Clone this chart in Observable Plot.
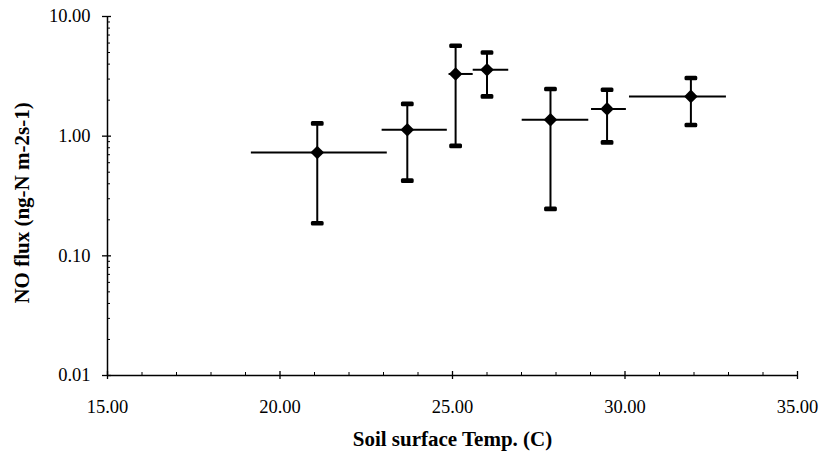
<!DOCTYPE html>
<html>
<head>
<meta charset="utf-8">
<script src="https://cdn.jsdelivr.net/npm/d3@7"></script>
<script src="https://cdn.jsdelivr.net/npm/@observablehq/plot@0.6"></script>
<style>
  html, body { margin: 0; padding: 0; background: #fff; }
</style>
</head>
<body>
<div id="chart"></div>
<script>
// Data
const temp     = [21.08, 23.69, 25.09, 26.00, 27.84, 29.48, 31.91];
const tempLow  = [19.17, 22.96, 24.90, 25.60, 27.02, 29.03, 30.13];
const tempHigh = [23.11, 24.85, 25.60, 26.63, 28.95, 30.04, 32.94];
const flux     = [0.73, 1.13, 3.31, 3.59, 1.37, 1.69, 2.15];
const fluxLow  = [0.187, 0.425, 0.83, 2.15, 0.247, 0.888, 1.24];
const fluxHigh = [1.28, 1.86, 5.69, 5.00, 2.48, 2.44, 3.06];

const xMajorTicks = [15, 20, 25, 30, 35];
const xMinorTicks = [16, 17, 18, 19, 21, 22, 23, 24, 26, 27, 28, 29, 31, 32, 33, 34];
const yMajorTicks = [0.01, 0.1, 1, 10];
const yMinorTicks = [0.02, 0.03, 0.04, 0.05, 0.06, 0.07, 0.08, 0.09,
                     0.2, 0.3, 0.4, 0.5, 0.6, 0.7, 0.8, 0.9,
                     2, 3, 4, 5, 6, 7, 8, 9];
const xTitle = "Soil surface Temp. (C)";
const yTitle = "NO flux (ng-N m-2s-1)";

const data = temp.map((t, i) => ({
  x: t, xlo: tempLow[i], xhi: tempHigh[i],
  y: flux[i], ylo: fluxLow[i], yhi: fluxHigh[i]
}));
const capPoints = data.flatMap(d => [{x: d.x, y: d.ylo}, {x: d.x, y: d.yhi}]);

const capSymbol = {
  draw(ctx) {
    const w = 6.4, h = 2.3, r = 1.5;
    ctx.moveTo(-w + r, -h);
    ctx.lineTo(w - r, -h);
    ctx.arcTo(w, -h, w, -h + r, r);
    ctx.lineTo(w, h - r);
    ctx.arcTo(w, h, w - r, h, r);
    ctx.lineTo(-w + r, h);
    ctx.arcTo(-w, h, -w, h - r, r);
    ctx.lineTo(-w, -h + r);
    ctx.arcTo(-w, -h, -w + r, -h, r);
    ctx.closePath();
  }
};
const diamondSymbol = {
  draw(ctx) {
    const s = 6.8;
    ctx.moveTo(0, -s);
    ctx.lineTo(s, 0);
    ctx.lineTo(0, s);
    ctx.lineTo(-s, 0);
    ctx.closePath();
  }
};
const noLabel = () => "";

const chart = Plot.plot({
  width: 823,
  height: 455,
  marginLeft: 107,
  marginRight: 26,
  marginTop: 16,
  marginBottom: 80,
  style: {
    fontFamily: "'Liberation Serif', 'Times New Roman', serif",
    fontSize: "18px",
    background: "#fff",
    color: "#000"
  },
  x: { domain: [15, 35] },
  y: { type: "log", domain: [0.01, 10] },
  marks: [
    // axes lines
    Plot.ruleX([15], { stroke: "#000", strokeWidth: 1.5 }),
    Plot.ruleY([0.01], { stroke: "#000", strokeWidth: 1.5 }),
    // x axis
    Plot.axisX({ ticks: xMajorTicks, tickFormat: d => d.toFixed(2), tickSize: 4, tickPadding: 20, label: null, stroke: "#000", strokeWidth: 1.3, fontSize: 18.5 }),
    Plot.axisX({ ticks: xMajorTicks, tickFormat: noLabel, tickSize: -4, label: null, stroke: "#000", strokeWidth: 1.3 }),
    Plot.axisX({ ticks: xMinorTicks, tickFormat: noLabel, tickSize: -3, label: null, stroke: "#000", strokeWidth: 1 }),
    // y axis
    Plot.axisY({ ticks: yMajorTicks, tickFormat: d => d.toFixed(2), tickSize: 5, tickPadding: 12, label: null, stroke: "#000", strokeWidth: 1.3, fontSize: 18.5 }),
    Plot.axisY({ ticks: yMajorTicks, tickFormat: noLabel, tickSize: -4, label: null, stroke: "#000", strokeWidth: 1.3 }),
    Plot.axisY({ ticks: yMinorTicks, tickFormat: noLabel, tickSize: -3, label: null, stroke: "#000", strokeWidth: 1 }),
    // axis titles
    Plot.text([xTitle], { frameAnchor: "bottom", dy: 70, fontWeight: "bold", fontSize: 21, fill: "#000" }),
    Plot.text([yTitle], { frameAnchor: "left", textAnchor: "middle", dx: -85, dy: 7, rotate: -90, fontWeight: "bold", fontSize: 21, fill: "#000" }),
    // error bars
    Plot.ruleY(data, { y: "y", x1: "xlo", x2: "xhi", stroke: "#000", strokeWidth: 2 }),
    Plot.ruleX(data, { x: "x", y1: "ylo", y2: "yhi", stroke: "#000", strokeWidth: 2 }),
    Plot.dot(capPoints, { x: "x", y: "y", symbol: capSymbol, fill: "#000", stroke: "none" }),
    Plot.dot(data, { x: "x", y: "y", symbol: diamondSymbol, fill: "#000", stroke: "none" })
  ]
});
document.getElementById("chart").appendChild(chart);
</script>
</body>
</html>
